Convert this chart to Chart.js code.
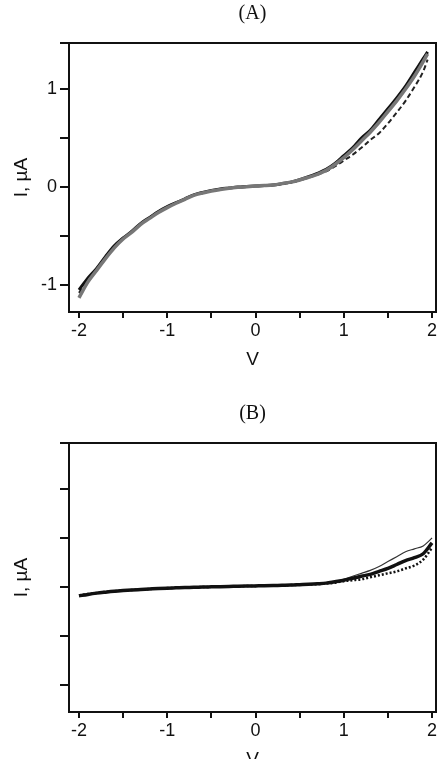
<!DOCTYPE html>
<html>
<head>
<meta charset="utf-8">
<script src="https://cdn.jsdelivr.net/npm/chart.js@4/dist/chart.umd.min.js"></script>
<style>
  html, body { margin: 0; padding: 0; background: #fff; }
  body { width: 441px; height: 759px; overflow: hidden; position: relative; }
  .panel { position: absolute; left: 0; width: 441px; height: 380px; }
</style>
</head>
<body>
<div class="panel" style="top:0"><canvas id="chartA"></canvas></div>
<div class="panel" style="top:400px"><canvas id="chartB"></canvas></div>
<script>
// bias voltage (V)
const voltage = [-2.0, -1.9, -1.8, -1.7, -1.6, -1.5, -1.4, -1.3, -1.2, -1.1, -1.0,
  -0.9, -0.8, -0.7, -0.6, -0.5, -0.4, -0.3, -0.2, -0.1, 0.0,
  0.1, 0.2, 0.3, 0.4, 0.5, 0.6, 0.7, 0.8, 0.9, 1.0,
  1.1, 1.2, 1.3, 1.4, 1.5, 1.6, 1.7, 1.8, 1.9, 1.95];
const voltageB = [-2.0, -1.9, -1.8, -1.7, -1.6, -1.5, -1.4, -1.3, -1.2, -1.1, -1.0,
  -0.9, -0.8, -0.7, -0.6, -0.5, -0.4, -0.3, -0.2, -0.1, 0.0,
  0.1, 0.2, 0.3, 0.4, 0.5, 0.6, 0.7, 0.8, 0.9, 1.0,
  1.1, 1.2, 1.3, 1.4, 1.5, 1.6, 1.7, 1.8, 1.9, 2.0];

// (A) current, µA - repeated sweeps
const sweepA1 = [-1.05, -0.93, -0.83, -0.71, -0.60, -0.52, -0.45, -0.37, -0.31, -0.25, -0.20,
  -0.16, -0.12, -0.08, -0.055, -0.035, -0.02, -0.01, 0.0, 0.005, 0.01,
  0.015, 0.02, 0.035, 0.05, 0.075, 0.105, 0.14, 0.18, 0.24, 0.32,
  0.40, 0.50, 0.58, 0.69, 0.80, 0.91, 1.03, 1.17, 1.31, 1.38];
const sweepA2 = [-1.13, -0.97, -0.85, -0.73, -0.62, -0.53, -0.46, -0.38, -0.32, -0.26, -0.21,
  -0.165, -0.125, -0.085, -0.06, -0.04, -0.025, -0.012, -0.003, 0.004, 0.01,
  0.015, 0.022, 0.035, 0.05, 0.072, 0.10, 0.13, 0.17, 0.23, 0.30,
  0.38, 0.47, 0.56, 0.66, 0.77, 0.88, 1.00, 1.13, 1.28, 1.36];
const sweepA3 = [-1.08, -0.95, -0.84, -0.72, -0.61, -0.53, -0.45, -0.38, -0.31, -0.25, -0.20,
  -0.16, -0.12, -0.08, -0.055, -0.035, -0.02, -0.01, 0.0, 0.005, 0.01,
  0.015, 0.02, 0.03, 0.045, 0.068, 0.095, 0.125, 0.16, 0.21, 0.27,
  0.33, 0.40, 0.48, 0.55, 0.65, 0.76, 0.88, 1.02, 1.18, 1.30];

// (B) current, µA - repeated sweeps
const sweepB1 = [-0.08, -0.07, -0.06, -0.05, -0.04, -0.035, -0.03, -0.025, -0.02, -0.015, -0.01,
  -0.008, -0.005, -0.003, 0.0, 0.002, 0.004, 0.006, 0.008, 0.01, 0.012,
  0.014, 0.016, 0.018, 0.02, 0.025, 0.03, 0.035, 0.045, 0.06, 0.08,
  0.11, 0.14, 0.17, 0.21, 0.26, 0.31, 0.36, 0.39, 0.42, 0.50];
const sweepB2 = [-0.09, -0.075, -0.062, -0.052, -0.043, -0.036, -0.03, -0.025, -0.02, -0.015, -0.011,
  -0.008, -0.005, -0.003, 0.0, 0.002, 0.004, 0.006, 0.008, 0.01, 0.012,
  0.014, 0.016, 0.018, 0.02, 0.024, 0.028, 0.033, 0.04, 0.055, 0.07,
  0.09, 0.11, 0.13, 0.16, 0.19, 0.23, 0.27, 0.30, 0.34, 0.45];
const sweepB3 = [-0.085, -0.072, -0.06, -0.05, -0.042, -0.035, -0.03, -0.025, -0.02, -0.015, -0.01,
  -0.008, -0.005, -0.003, 0.0, 0.002, 0.004, 0.006, 0.008, 0.01, 0.012,
  0.014, 0.016, 0.018, 0.02, 0.023, 0.026, 0.03, 0.036, 0.045, 0.06,
  0.07, 0.08, 0.10, 0.12, 0.14, 0.16, 0.19, 0.22, 0.28, 0.40];

// axis ticks
const xTicks = [-2, -1.5, -1, -0.5, 0, 0.5, 1, 1.5, 2];
const yTicks = [-1, -0.5, 0, 0.5, 1];
const xRange = [-2.113, 2.045];
const yRange = [-1.275, 1.47];

const ink = '#111';

const framePlugin = {
  id: 'frame',
  afterDraw(chart) {
    const { ctx, chartArea: a } = chart;
    ctx.save();
    ctx.strokeStyle = ink;
    ctx.lineWidth = 2;
    ctx.beginPath();
    ctx.moveTo(a.left - 9, a.top);
    ctx.lineTo(a.right, a.top);
    ctx.lineTo(a.right, a.bottom);
    ctx.lineTo(a.left, a.bottom);
    ctx.lineTo(a.left, a.top);
    ctx.stroke();
    ctx.restore();
  }
};

const pts = (xs, ys) => xs.map((x, i) => ({ x: x, y: ys[i] }));

function makeOptions(title, showYLabels) {
  return {
    responsive: true,
    maintainAspectRatio: false,
    animation: false,
    layout: { padding: { left: 0, right: 5, top: 0, bottom: 0 } },
    plugins: {
      legend: { display: false },
      tooltip: { enabled: false },
      title: {
        display: true,
        text: title,
        fullSize: false,
        color: ink,
        font: { family: 'Liberation Serif', size: 20, weight: 'normal' },
        padding: { top: 2, bottom: 17 }
      }
    },
    scales: {
      x: {
        type: 'linear',
        min: xRange[0],
        max: xRange[1],
        afterBuildTicks: s => { s.ticks = xTicks.map(v => ({ value: v })); },
        afterFit: s => { s.height = 68; },
        ticks: {
          color: ink,
          padding: 2,
          maxRotation: 0,
          font: { family: 'Liberation Sans', size: 18 },
          callback: v => Number.isInteger(v) ? String(v) : ''
        },
        grid: { drawOnChartArea: false, tickLength: 6, color: ink, lineWidth: 2 },
        border: { display: false },
        title: {
          display: true,
          text: 'V',
          color: ink,
          font: { family: 'Liberation Sans', size: 19 },
          padding: { top: 4, bottom: 9 }
        }
      },
      y: {
        type: 'linear',
        min: yRange[0],
        max: yRange[1],
        afterBuildTicks: s => { s.ticks = yTicks.map(v => ({ value: v })); },
        afterFit: s => { s.width = 69; },
        ticks: {
          display: showYLabels,
          color: ink,
          padding: 3,
          font: { family: 'Liberation Sans', size: 18 },
          callback: v => Number.isInteger(v) ? String(v) : ''
        },
        grid: { drawOnChartArea: false, tickLength: 9, color: ink, lineWidth: 2 },
        border: { display: false },
        title: {
          display: true,
          text: 'I, µA',
          color: ink,
          font: { family: 'Liberation Sans', size: 19 },
          padding: { top: 10, bottom: 0 }
        }
      }
    }
  };
}

const line = (data, color, width, dash) => ({
  data: data,
  showLine: true,
  borderColor: color,
  borderWidth: width,
  borderDash: dash || [],
  pointRadius: 0,
  cubicInterpolationMode: 'monotone',
  fill: false
});

new Chart(document.getElementById('chartA'), {
  type: 'scatter',
  data: {
    datasets: [
      line(pts(voltage, sweepA2), '#777', 3.5),
      line(pts(voltage, sweepA1), ink, 3),
      line(pts(voltage, sweepA3), '#222', 2, [5, 3])
    ]
  },
  options: makeOptions('(A)', true),
  plugins: [framePlugin]
});

new Chart(document.getElementById('chartB'), {
  type: 'scatter',
  data: {
    datasets: [
      line(pts(voltageB, sweepB2), ink, 3.5),
      line(pts(voltageB, sweepB1), '#333', 1.2),
      line(pts(voltageB, sweepB3), ink, 2.5, [2, 2])
    ]
  },
  options: makeOptions('(B)', false),
  plugins: [framePlugin]
});
</script>
</body>
</html>
